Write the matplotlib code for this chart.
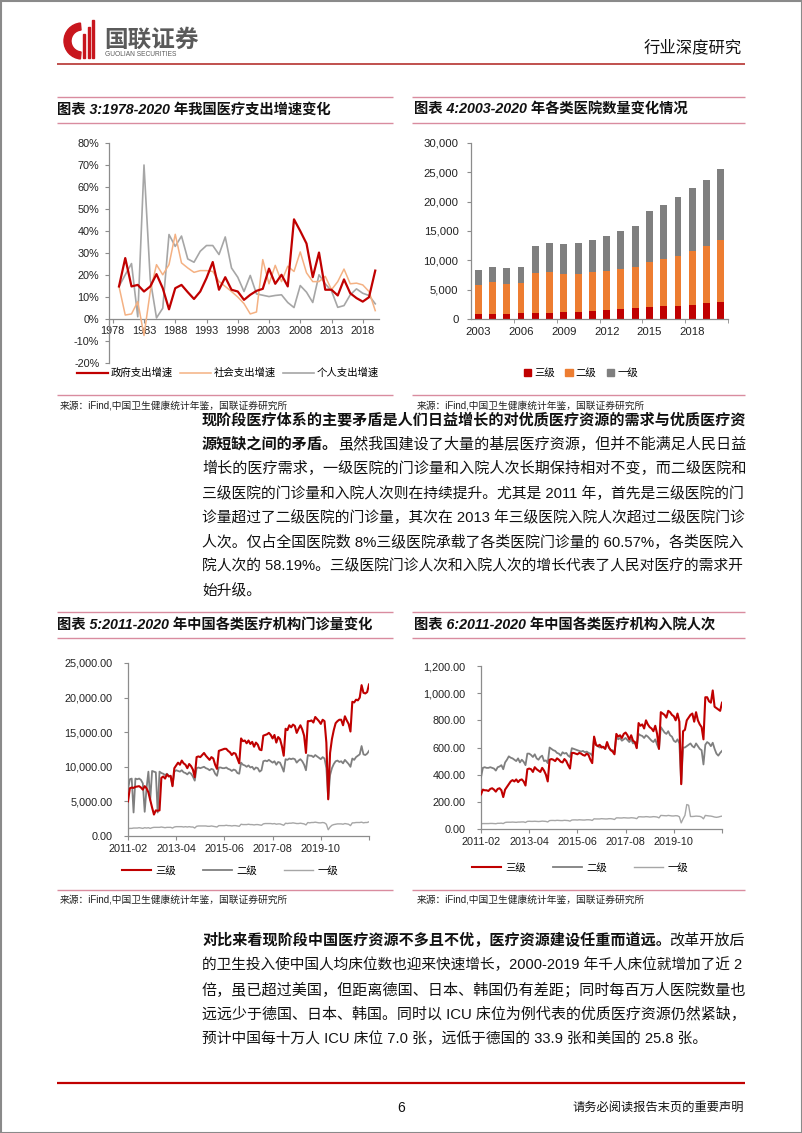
import numpy as np
import pandas as pd
import matplotlib
matplotlib.use('Agg')
from matplotlib import pyplot as plt
from matplotlib.patches import Rectangle, Wedge
from matplotlib.lines import Line2D
from matplotlib.ticker import FuncFormatter

plt.rcParams['font.family'] = ['Liberation Sans', 'Noto Sans CJK SC']
plt.rcParams['axes.unicode_minus'] = False

#%% data
# chart 3: growth of health spending, %
years3 = np.arange(1979, 2021)
gov_growth = [14.8, 27.7, 14.8, 15.5, 12.5, 14.8, 20.4, 14.0, 4.4, 14.0,
              15.5, 12.2, 9.1, 12.5, 18.6, 25.9, 13.3, 19.0, 13.3, 12.5,
              8.7, 11.0, 12.8, 13.7, 22.9, 16.0, 20.1, 14.8, 45.3, 40.0,
              34.3, 19.0, 30.2, 13.3, 13.3, 10.7, 18.0, 11.7, 9.5, 7.9,
              9.9, 22.0]
soc_growth = [14.8, 1.8, 2.3, 7.9, -7.5, 12.5, 24.7, 20.1, 24.7, 38.5,
              25.5, 23.2, 21.2, 22.0, 22.0, 21.6, 17.1, 14.8, 12.5, 10.0,
              7.0, 2.3, 3.2, 27.0, 16.0, 24.4, 17.0, 24.0, 21.6, 30.5,
              21.0, 17.0, 17.0, 19.4, 13.3, 17.0, 22.7, 16.0, 16.3, 15.5,
              12.5, 3.8]
per_growth = [14.8, 20.1, 25.2, 1.0, 70.0, 18.0, 0.5, 4.9, 38.4, 33.0,
              37.7, 27.3, 25.8, 30.8, 33.4, 33.4, 29.3, 37.3, 23.2, 19.0,
              12.5, 19.8, 11.4, 10.8, 10.2, 10.7, 11.0, 7.5, 5.2, 15.2,
              12.2, 7.5, 20.1, 16.0, 12.8, 5.3, 6.1, 11.0, 13.7, 11.7,
              10.7, 6.9]

# chart 4: number of hospitals by grade
years4 = np.arange(2003, 2021)
hosp_l3 = [850, 880, 910, 970, 1080, 1100, 1140, 1190, 1310, 1550,
           1700, 1880, 2100, 2220, 2280, 2440, 2670, 2950]
hosp_l2 = [4890, 5370, 5110, 5170, 6760, 6910, 6590, 6540, 6640, 6570,
           6820, 6930, 7560, 8060, 8520, 9090, 9720, 10460]
hosp_l1 = [2560, 2610, 2730, 2720, 4550, 4940, 5110, 5220, 5510, 5970,
           6420, 6990, 8750, 9150, 10000, 10860, 11300, 12220]

# charts 5/6: monthly, 2011-02 .. 2021-12
months = pd.date_range('2011-02-01', periods=131, freq='MS')
opd_l3 = [
    5000, 6900, 7000, 6950, 7100, 7150, 7200, 7000, 6700, 7200, 6900,
    6300, 5200, 4100, 3100, 3700, 3650, 3700, 8400, 8600, 8300, 8900, 8600,
    8700, 7200, 9800, 10200, 10600, 10300, 10900, 10500, 10300, 9800, 10400, 10100,
    9600, 8500, 11400, 11500, 11400, 11700, 12000, 11600, 11300, 11000, 11400, 11200,
    10300, 9700, 12300, 12400, 12500, 12600, 12600, 12300, 12100, 11700, 12000, 11900,
    11200, 10500, 14100, 13700, 13800, 13400, 13800, 13300, 13600, 12900, 13500, 13200,
    12500, 12400, 14500, 14600, 14700, 14900, 14600, 14100, 14600, 13500, 14300, 14000,
    13000, 11600, 15500, 15300, 16000, 15700, 16100, 15900, 14900, 15500, 16000, 15400,
    14500, 12000, 16600, 16600, 16700, 16400, 17200, 16900, 16600, 16200, 16800, 16600,
    13500, 5300, 12000, 14000, 15300, 16300, 16600, 16800, 16800, 16000, 17300, 16700,
    16200, 15100, 19400, 19300, 19700, 19600, 20000, 21800, 20700, 20600, 20800, 21900,
]
opd_l2 = [
    6800, 8200, 8300, 3400, 8300, 8200, 8300, 8100, 7600, 3500, 6900,
    9300, 5200, 9400, 9300, 9200, 3400, 9300, 9100, 9000, 8800, 9000, 8700,
    8600, 7300, 9300, 9500, 9400, 9300, 9500, 9200, 9100, 8900, 9200, 9000,
    8600, 8000, 9800, 9900, 9800, 9900, 10000, 9800, 9700, 9500, 9700, 9600,
    9000, 8700, 9900, 9900, 9800, 9800, 9900, 9700, 9600, 9400, 9600, 9500,
    9100, 9000, 10600, 10300, 10200, 10000, 10200, 9900, 10000, 9600, 9900, 9800,
    9300, 9500, 10800, 10900, 10800, 11000, 10800, 10600, 10800, 10300, 10700, 10600,
    10000, 9300, 11100, 11000, 11200, 11100, 11200, 11100, 10600, 10900, 11100, 10800,
    10300, 9500, 11700, 11600, 11600, 11400, 11700, 11500, 11300, 11100, 11400, 11200,
    9800, 5400, 8800, 9800, 10400, 10800, 10900, 10700, 10800, 10500, 11000, 10700,
    10400, 10000, 11200, 11000, 11400, 11600, 11800, 13000, 11800, 11700, 11900, 12300,
]
opd_l1 = [
    1050, 1100, 1100, 1150, 1150, 1150, 1200, 1150, 1100, 1200, 1150,
    1200, 1100, 1200, 1250, 1250, 1250, 1250, 1300, 1250, 1200, 1250, 1250,
    1250, 1150, 1300, 1350, 1350, 1350, 1350, 1300, 1350, 1300, 1350, 1300,
    1300, 1150, 1400, 1450, 1450, 1450, 1450, 1450, 1400, 1400, 1450, 1400,
    1350, 1300, 1500, 1500, 1500, 1500, 1550, 1500, 1500, 1450, 1500, 1500,
    1450, 1400, 1700, 1650, 1650, 1650, 1700, 1650, 1650, 1600, 1650, 1650,
    1600, 1550, 1750, 1800, 1800, 1800, 1800, 1750, 1800, 1700, 1750, 1750,
    1650, 1550, 1850, 1800, 1850, 1850, 1900, 1850, 1800, 1800, 1850, 1800,
    1750, 1600, 1950, 1900, 1950, 1950, 2000, 1950, 1900, 1900, 1950, 1900,
    1700, 900, 1300, 1550, 1650, 1700, 1750, 1750, 1750, 1700, 1800, 1750,
    1700, 1500, 1900, 1900, 1950, 1950, 1950, 2000, 1900, 1950, 1950, 2050,
]
adm_l3 = [
    255, 290, 285, 285, 280, 295, 300, 290, 275, 295, 300,
    285, 235, 290, 310, 330, 350, 360, 350, 365, 345, 360, 365,
    350, 320, 440, 445, 440, 420, 455, 440, 430, 420, 450, 430,
    400, 350, 510, 515, 510, 500, 520, 510, 495, 490, 515, 500,
    470, 445, 560, 560, 555, 550, 560, 555, 545, 540, 555, 545,
    510, 485, 680, 620, 610, 620, 600, 605, 590, 640, 600, 580,
    570, 550, 700, 680, 690, 670, 700, 710, 690, 660, 690, 650,
    640, 595, 780, 760, 770, 740, 800, 770, 750, 740, 720, 760,
    700, 590, 860, 850, 840, 820, 870, 860, 840, 830, 800, 850,
    790, 330, 720, 730, 800, 820, 840, 850, 790, 860, 800, 770,
    750, 660, 970, 970, 940, 930, 1020, 900, 890, 880, 870, 930,
]
adm_l2 = [
    380, 450, 455, 450, 450, 455, 450, 445, 430, 455, 460,
    470, 440, 490, 510, 535, 525, 520, 510, 500, 520, 490, 510,
    495, 470, 555, 555, 545, 530, 550, 520, 510, 530, 540, 500,
    505, 485, 600, 590, 580, 575, 560, 555, 540, 565, 555, 560,
    540, 530, 595, 590, 585, 580, 575, 570, 575, 565, 570, 560,
    555, 540, 675, 620, 610, 600, 610, 600, 590, 630, 600, 580,
    580, 560, 680, 660, 670, 650, 660, 670, 655, 640, 660, 630,
    640, 600, 700, 690, 685, 670, 690, 680, 665, 650, 640, 660,
    620, 590, 750, 730, 710, 700, 720, 690, 680, 650, 640, 660,
    630, 335, 600, 600, 610, 620, 630, 610, 600, 630, 610, 590,
    580, 475, 620, 640, 630, 610, 635, 590, 555, 540, 560, 575,
]
adm_l1 = [
    38, 40, 40, 40, 40, 41, 41, 40, 39, 42, 42,
    43, 40, 48, 50, 50, 50, 51, 50, 49, 51, 51, 52,
    52, 48, 56, 57, 56, 56, 57, 56, 55, 56, 58, 57,
    56, 52, 62, 63, 63, 62, 64, 63, 62, 62, 64, 63,
    62, 58, 66, 67, 67, 66, 68, 67, 66, 66, 68, 68,
    67, 63, 75, 74, 74, 74, 76, 75, 74, 74, 76, 76,
    74, 70, 82, 82, 81, 81, 83, 82, 81, 81, 83, 82,
    80, 76, 90, 90, 89, 89, 91, 90, 88, 89, 91, 90,
    88, 82, 100, 99, 98, 97, 100, 98, 96, 96, 98, 97,
    90, 45, 75, 100, 180, 175, 92, 92, 93, 95, 94, 93,
    88, 75, 100, 98, 96, 95, 92, 88, 86, 88, 92, 95,
]
grade_labels = ['三级', '二级', '一级']

para1 = [
    ("现阶段医疗体系的主要矛盾是人们日益增长的对优质医疗资源的需求与优质医疗资", ""),
    ("源短缺之间的矛盾。", "虽然我国建设了大量的基层医疗资源，但并不能满足人民日益"),
    ("", "增长的医疗需求，一级医院的门诊量和入院人次长期保持相对不变，而二级医院和"),
    ("", "三级医院的门诊量和入院人次则在持续提升。尤其是 2011 年，首先是三级医院的门"),
    ("", "诊量超过了二级医院的门诊量，其次在 2013 年三级医院入院人次超过二级医院门诊"),
    ("", "人次。仅占全国医院数 8%三级医院承载了各类医院门诊量的 60.57%，各类医院入"),
    ("", "院人次的 58.19%。三级医院门诊人次和入院人次的增长代表了人民对医疗的需求开"),
    ("", "始升级。"),
]
para2 = [
    ("对比来看现阶段中国医疗资源不多且不优，医疗资源建设任重而道远。", "改革开放后"),
    ("", "的卫生投入使中国人均床位数也迎来快速增长，2000-2019 年千人床位就增加了近 2"),
    ("", "倍，虽已超过美国，但距离德国、日本、韩国仍有差距；同时每百万人医院数量也"),
    ("", "远远少于德国、日本、韩国。同时以 ICU 床位为例代表的优质医疗资源仍然紧缺，"),
    ("", "预计中国每十万人 ICU 床位 7.0 张，远低于德国的 33.9 张和美国的 25.8 张。"),
]
source = "来源：iFind,中国卫生健康统计年鉴，国联证券研究所"

#%% style
RED = '#C00000'
ORANGE = '#ED7D31'
GRAY = '#7F7F7F'
LORANGE = '#F4B183'
LGRAY = '#A6A6A6'
PINK = '#D98C9F'
AXC = '#8C8C8C'

W, H = 802, 1133
fig = plt.figure(figsize=(W / 100, H / 100), dpi=100)
page = fig.add_axes([0, 0, 1, 1])
page.set_xlim(0, W)
page.set_ylim(H, 0)
page.axis('off')
renderer = fig.canvas.get_renderer()


def rect(l, t, r, b):
    return [l / W, 1 - b / H, (r - l) / W, (b - t) / H]


def fpos(x, y):
    return (x / W, 1 - y / H)


def hline(y, x0, x1, color, lw):
    page.plot([x0, x1], [y, y], color=color, lw=lw, solid_capstyle='butt')


def style(ax, size=7.8):
    ax.set_facecolor('none')
    for s in ['top', 'right']:
        ax.spines[s].set_visible(False)
    for s in ['left', 'bottom']:
        ax.spines[s].set_color(AXC)
        ax.spines[s].set_linewidth(0.9)
    ax.tick_params(labelsize=size, labelcolor='#222222', color=AXC,
                   length=3, width=0.8)


# page frame, header
page.add_patch(Rectangle((0.5, 0.5), W - 1, H - 1, fill=False, ec='#8a8a8a', lw=1.5))
page.add_patch(Wedge((82, 41), 18, 95, 265, width=7, color='#C8161D'))
for bx, top in [(83, 34), (87.5, 27), (92, 20)]:
    page.add_patch(Rectangle((bx, top), 2.4, 58 - top, color='#C8161D'))
page.text(104, 40, '国联证券', fontsize=17, fontweight='bold', color='#5a5a5a',
          va='center', ha='left', family='Noto Sans CJK SC')
page.text(105, 54.5, 'GUOLIAN SECURITIES', fontsize=4.8, color='#5a5a5a',
          va='center', ha='left')
page.text(742, 48, '行业深度研究', fontsize=11.8, color='#111111', va='center', ha='right')
hline(64, 57, 745, '#C0504D', 1.4)

# chart header lines, titles and sources
for x0, x1 in [(57, 393), (412, 745)]:
    for y in [97, 123, 395, 612, 638, 890]:
        hline(y, x0, x1, PINK, 1.0)
titles = [(57, 110, '图表 3:1978-2020 年我国医疗支出增速变化'),
          (414, 110, '图表 4:2003-2020 年各类医院数量变化情况'),
          (57, 625, '图表 5:2011-2020 年中国各类医疗机构门诊量变化'),
          (414, 625, '图表 6:2011-2020 年中国各类医疗机构入院人次')]
for x, y, t in titles:
    page.text(x, y, t, fontsize=10.3, fontweight='bold', style='italic',
              color='#111111', va='center', ha='left')
for x, y in [(60, 406), (417, 406), (60, 899), (417, 899)]:
    page.text(x, y, source, fontsize=7, color='#222222', va='center', ha='left')


def str_width(s, size, weight):
    # advance width in px: CJK glyphs are 1 em, ascii runs measured between CJK
    em = size * 100 / 72
    total = 0.0
    run = ''
    for ch in s + '中':
        if ord(ch) < 128:
            run += ch
            continue
        if run:
            t = page.text(0, 0, '中' + run + '中', fontsize=size, fontweight=weight)
            total += t.get_window_extent(renderer).width - 2 * em
            t.remove()
            run = ''
        total += em
    return total - em


def paragraph(lines, x, y0, dy, right=745, size=10.6):
    for i, (bold, rest) in enumerate(lines):
        y = y0 + i * dy
        s = size
        if i < len(lines) - 1:
            natural = str_width(bold, size, 'bold') + str_width(rest, size, 'normal')
            s = size * (right - x) / natural
        xx = x
        if bold:
            page.text(xx, y, bold, fontsize=s, fontweight='bold', color='#111111',
                      va='center', ha='left')
            xx += str_width(bold, s, 'bold')
        if rest:
            page.text(xx, y, rest, fontsize=s, color='#111111', va='center', ha='left')


paragraph(para1, 202, 420, 24.4)
paragraph(para2, 202, 940, 24.8)

hline(1083, 57, 745, RED, 1.6)
page.text(401, 1108, '6', fontsize=10, color='#111111', va='center', ha='center')
page.text(744, 1108, '请务必阅读报告末页的重要声明', fontsize=8.8, color='#111111',
          va='center', ha='right')

#%% chart 3
ax3 = fig.add_axes(rect(109, 143, 379, 363))
style(ax3)
l_per, = ax3.plot(years3, per_growth, color=LGRAY, lw=1.2, zorder=2)
l_soc, = ax3.plot(years3, soc_growth, color=LORANGE, lw=1.1, zorder=3)
l_gov, = ax3.plot(years3, gov_growth, color=RED, lw=1.6, zorder=4)
ax3.set_xlim(1977.4, 2020.6)
ax3.set_ylim(-20, 80)
ax3.set_yticks(np.arange(-20, 81, 10))
ax3.yaxis.set_major_formatter(FuncFormatter(lambda v, p: f'{v:.0f}%'))
ax3.spines['bottom'].set_position(('data', 0))
ax3.set_xticks(np.arange(1978, 2019, 5))
ax3.tick_params(axis='x', pad=2)
ax3.tick_params(axis='y', pad=4)
fig.legend([l_gov, l_soc, l_per], ['政府支出增速', '社会支出增速', '个人支出增速'],
           loc='center', bbox_to_anchor=fpos(228, 373), ncol=3, frameon=False,
           fontsize=7.5, handlelength=3.0, handletextpad=0.3, columnspacing=0.6)

#%% chart 4
ax4 = fig.add_axes(rect(471, 143, 728, 319))
style(ax4, 8.2)
idx = np.arange(len(years4))
l3 = np.array(hosp_l3)
l2 = np.array(hosp_l2)
l1 = np.array(hosp_l1)
ax4.bar(idx, l3, width=0.48, color=RED)
ax4.bar(idx, l2, width=0.48, bottom=l3, color=ORANGE)
ax4.bar(idx, l1, width=0.48, bottom=l3 + l2, color=GRAY)
ax4.set_xlim(-0.5, len(years4) - 0.5)
ax4.set_ylim(0, 30000)
ax4.set_yticks(np.arange(0, 30001, 5000))
ax4.yaxis.set_major_formatter(FuncFormatter(lambda v, p: f'{v:,.0f}'))
ax4.set_xticks(idx[::3])
ax4.set_xticklabels([str(y) for y in years4[::3]])
ax4.set_xticks(np.arange(2.5, len(years4), 3), minor=True)
ax4.tick_params(axis='x', which='major', length=0, pad=6)
ax4.tick_params(axis='x', which='minor', length=3, color=AXC)
ax4.tick_params(axis='y', pad=6)
fig.legend([Rectangle((0, 0), 1, 1, color=c) for c in [RED, ORANGE, GRAY]], grade_labels,
           loc='center', bbox_to_anchor=fpos(581, 373), ncol=3, frameon=False,
           fontsize=7.5, handlelength=0.7, handleheight=0.7, handletextpad=0.3,
           columnspacing=1.0)

#%% charts 5 and 6
mi = np.arange(len(months))
tick_m = np.arange(0, len(months), 26)
tick_lab = [months[i].strftime('%Y-%m') for i in tick_m[:-1]] + ['']


def month_chart(box, s3, s2, s1, ymax, ystep, legend_xy):
    ax = fig.add_axes(rect(*box))
    style(ax)
    ax.plot(mi, s1, color=LGRAY, lw=1.0, zorder=2)
    ax.plot(mi, s2, color=GRAY, lw=1.3, zorder=3)
    ax.plot(mi, s3, color=RED, lw=1.5, zorder=4)
    ax.set_xlim(0, len(months) - 1)
    ax.set_ylim(0, ymax)
    ax.set_yticks(np.arange(0, ymax + 1, ystep))
    ax.yaxis.set_major_formatter(FuncFormatter(lambda v, p: f'{v:,.2f}'))
    ax.set_xticks(tick_m)
    ax.set_xticklabels(tick_lab)
    ax.tick_params(axis='x', pad=3)
    ax.tick_params(axis='y', pad=8)
    handles = [Line2D([], [], color=c, lw=w) for c, w in [(RED, 1.5), (GRAY, 1.3), (LGRAY, 1.0)]]
    fig.legend(handles, grade_labels, loc='center', bbox_to_anchor=fpos(*legend_xy),
               ncol=3, frameon=False, fontsize=7.5, handlelength=2.8,
               handletextpad=0.4, columnspacing=2.6)
    return ax


ax5 = month_chart((128, 663, 369, 836), opd_l3, opd_l2, opd_l1, 25000, 5000, (230, 871))
ax6 = month_chart((481, 666, 722, 829), adm_l3, adm_l2, adm_l1, 1200, 200, (580, 868))

fig.savefig('out.png', dpi=100)
